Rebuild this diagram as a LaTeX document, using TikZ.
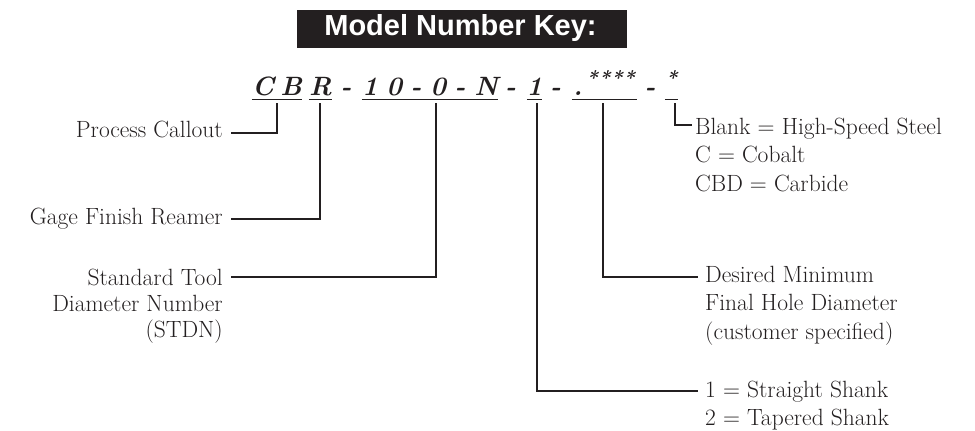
\documentclass[tikz,border=0pt]{standalone}
\usepackage{fontspec}
\newfontfamily\titlefont{Liberation Sans}
\definecolor{ink}{HTML}{231F20}
\newcommand{\hiast}{\raisebox{9.5pt}{\fontsize{20}{24}\selectfont *}}
\begin{document}
\begin{tikzpicture}[x=1pt,y=-1pt,
  conn/.style={draw=ink,line width=2pt},
  uline/.style={draw=ink,line width=1.6pt},
  code/.style={anchor=base,inner sep=0pt,text=ink,font=\fontsize{26.5}{30}\selectfont\bfseries\itshape},
  lbl/.style={inner sep=0pt,text=ink,font=\fontsize{23.5}{26}\selectfont},
  rlbl/.style={inner sep=0pt,text=ink,font=\fontsize{23.5}{28.5}\selectfont}
]
\useasboundingbox (0,0) rectangle (975,431);
% title
\node[fill=ink,minimum width=330pt,minimum height=38pt,inner sep=0pt] (titlebox) at (462,29) {};
\node[anchor=base,inner sep=0pt,text=white,font=\titlefont\bfseries\fontsize{29}{32}\selectfont] (title) at (460.5,35) {Model Number Key:};
% code line
\node[code] (cb) at (277,95) {\makebox[50pt][s]{C\hfill B}};
\node[code] (r) at (320.5,95) {\makebox[23pt]{R}};
\node[code] (h1) at (346,95) {-};
\node[code] (tn) at (430,95) {\makebox[136pt][s]{1\hfill 0\hfill -\hfill 0\hfill -\hfill N}};
\node[code] (h2) at (510.5,95) {-};
\node[code] (one) at (534.5,95) {\makebox[15pt]{1}};
\node[code] (h3) at (555.5,95) {-};
\node[code] (st) at (604.5,95) {\makebox[65pt][s]{\hspace{1pt}.\hfill\hiast\hspace{0.5pt}\hiast\hspace{0.5pt}\hiast\hspace{0.5pt}\hiast\hspace{2pt}}};
\node[code] (h4) at (650,95) {-};
\node[code] (sr) at (671.5,95) {\makebox[13pt]{\hiast}};
% underlines
\foreach \n in {cb,r,tn,one,st,sr}{
  \draw[uline] ([yshift=-4.5pt]\n.base west) -- ([yshift=-4.5pt]\n.base east);
}
% connector coordinates
\coordinate (cbT) at (277,103);  \coordinate (pcE) at (231,133);
\coordinate (rT) at (320,103);   \coordinate (gfE) at (231,219);
\coordinate (tnT) at (436,103);  \coordinate (stdE) at (231,277);
\coordinate (oneT) at (537,103); \coordinate (shE) at (698,391);
\coordinate (stT) at (603,103);  \coordinate (dmE) at (698,277);
\coordinate (srT) at (675,103);  \coordinate (matE) at (692,125);
\draw[conn] (cbT) |- (pcE);
\draw[conn] (rT) |- (gfE);
\draw[conn] (tnT) |- (stdE);
\draw[conn] (oneT) |- (shE);
\draw[conn] (stT) |- (dmE);
\draw[conn] (srT) |- (matE);
% labels
\node[lbl,anchor=base east] (pc) at (223,137.5) {Process Callout};
\node[lbl,anchor=base east] (gf) at (223,224) {Gage Finish Reamer};
\node[lbl,anchor=base east] (std) at (223,285.5) {\begin{tabular}[t]{@{}r@{}}Standard Tool\\Diameter Number\\(STDN)\end{tabular}};
\node[rlbl,anchor=base west] (mat) at (695,134) {\begin{tabular}[t]{@{}l@{}}Blank = High-Speed Steel\\C = Cobalt\\CBD = Carbide\end{tabular}};
\node[rlbl,anchor=base west] (dm) at (705,282) {\begin{tabular}[t]{@{}l@{}}Desired Minimum\\Final Hole Diameter\\(customer specified)\end{tabular}};
\node[rlbl,anchor=base west] (sh) at (705,397) {\begin{tabular}[t]{@{}l@{}}1 = Straight Shank\\2 = Tapered Shank\end{tabular}};
\end{tikzpicture}
\end{document}
